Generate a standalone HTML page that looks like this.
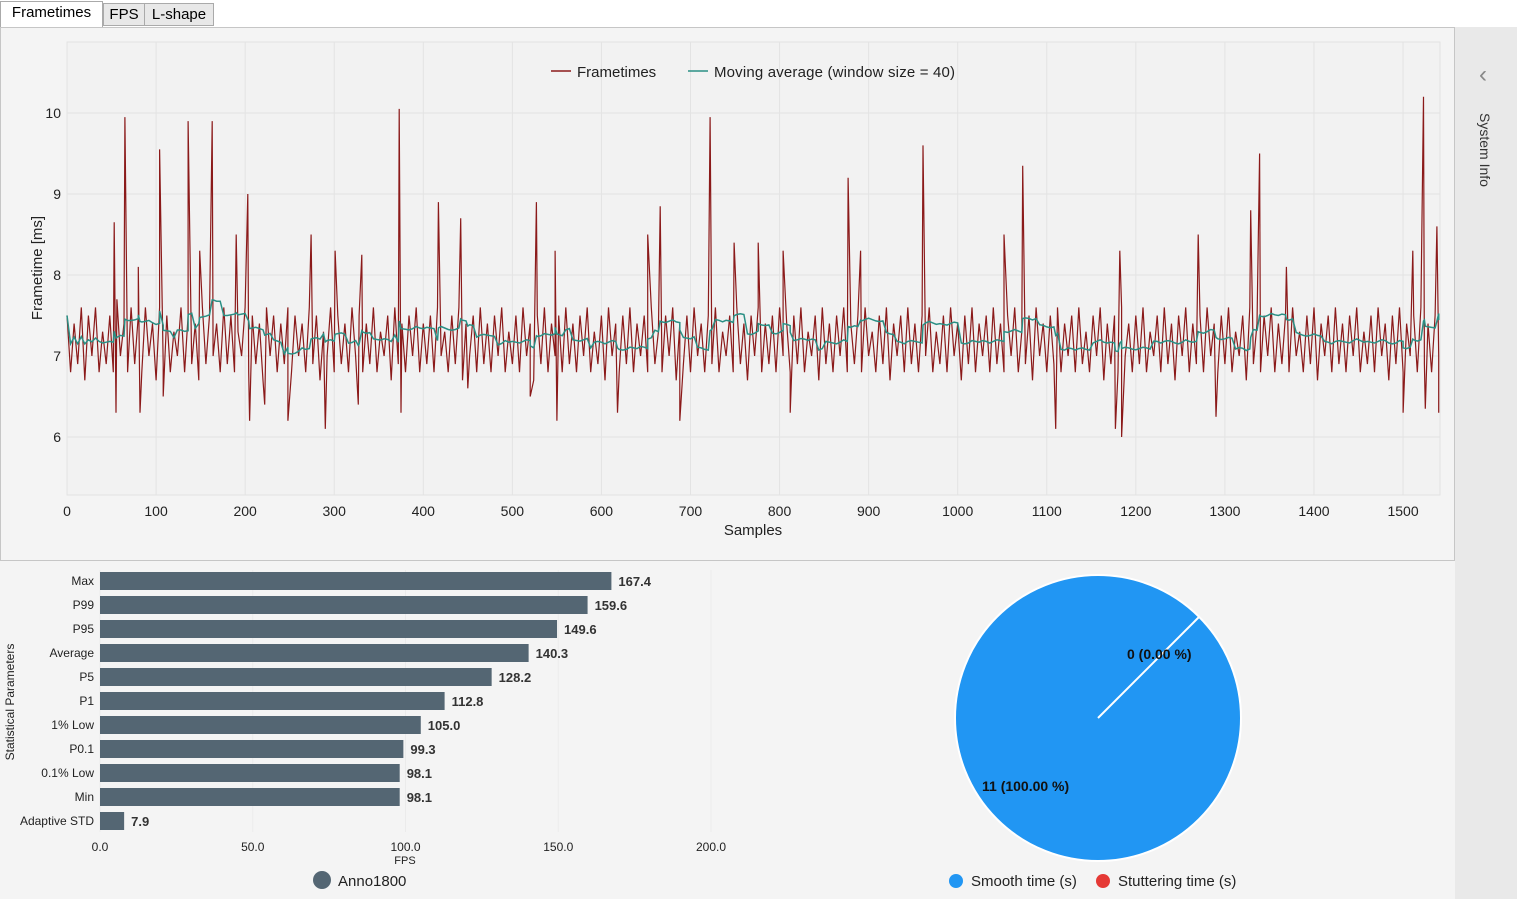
<!DOCTYPE html>
<html><head><meta charset="utf-8"><style>
body{margin:0;width:1517px;height:899px;overflow:hidden;background:#f4f4f4;font-family:"Liberation Sans",sans-serif;position:relative}
.tabbar{position:absolute;left:0;top:0;width:1517px;height:27px;background:#fff}
.tab{position:absolute;top:3px;height:23px;border:1px solid #aaa;background:#e8e8e8;font-size:15px;line-height:22px;text-align:center;box-sizing:border-box}
.side{position:absolute;left:1455px;top:27px;width:62px;height:872px;background:#e9e9e9}
</style></head><body>
<div class="tabbar">
<div class="tab" style="left:0;top:1px;width:103px;height:27px;background:#fff;border-bottom:none">Frametimes</div>
<div class="tab" style="left:103px;width:42px">FPS</div>
<div class="tab" style="left:144px;width:70px">L-shape</div>
</div>
<div style="position:absolute;left:0;top:27px;width:1455px;height:534px;border:1px solid #c6c6c6;box-sizing:border-box;background:#f4f4f4"></div>
<div class="side">
<div style="position:absolute;left:24px;top:34px;font-size:24px;color:#888">&#8249;</div>
<div style="position:absolute;left:-10px;top:115px;width:80px;transform:rotate(90deg);font-size:14px;color:#333;text-align:center">System Info</div>
</div>
<svg id="ft" width="1517" height="899" style="position:absolute;left:0;top:0"></svg>
<script>
const baseValues=[
7.5,6.8,7.4,6.9,7.6,6.7,7.5,7.0,7.6,6.8,7.3,6.9,7.5,6.8,7.7,7.0,7.4,6.8,7.6,6.9,
7.5,6.8,7.6,7.0,7.4,6.7,7.6,6.9,7.5,6.8,7.3,7.0,7.6,6.8,7.5,6.9,7.4,6.7,7.6,6.9,
7.5,7.0,7.4,6.8,7.6,6.9,7.5,6.8,7.3,7.0,7.6,6.8,7.5,6.9,7.4,6.7,7.6,7.0,7.5,6.8,
7.4,6.9,7.6,6.8,7.5,7.0,7.4,6.8,7.6,6.9,7.5,6.7,7.3,7.0,7.6,6.8,7.5,6.9,7.4,6.8,
7.6,7.0,7.5,6.8,7.4,6.9,7.6,6.8,7.3,7.0,7.5,6.7,7.6,6.9,7.4,6.8,7.5,7.0,7.6,6.8,
7.4,6.9,7.5,6.8,7.6,7.0,7.3,6.8,7.5,6.9,7.6,6.7,7.4,7.0,7.5,6.8,7.6,6.9,7.4,6.8,
7.5,7.0,7.6,6.8,7.3,6.9,7.5,6.8,7.6,7.0,7.4,6.7,7.5,6.9,7.6,6.8,7.4,7.0,7.5,6.8,
7.6,6.9,7.4,6.8,7.5,7.0,7.6,6.8,7.3,6.9,7.5,6.7,7.6,7.0,7.4,6.8,7.5,6.9,7.6,6.8,
7.4,7.0,7.5,6.8,7.6,6.9,7.3,6.8,7.5,7.0,7.6,6.7,7.4,6.9,7.5,6.8,7.6,7.0,7.4,6.8,
7.5,6.9,7.6,6.8,7.3,7.0,7.5,6.8,7.6,6.9,7.4,6.7,7.5,7.0,7.6,6.8,7.4,6.9,7.5,6.8,
7.6,7.0,7.4,6.8,7.5,6.9,7.6,6.8,7.3,7.0,7.5,6.7,7.6,6.9,7.4,6.8,7.5,7.0,7.6,6.8,
7.4,6.9,7.5,6.8,7.6,7.0,7.3,6.8,7.5,6.9,7.6,6.7,7.4,7.0,7.5,6.8,7.6,6.9,7.4,6.8,
7.5,7.0,7.6,6.8,7.3,6.9,7.5,6.8,7.6,7.0,7.4,6.7,7.5,6.9,7.6,6.8,7.4,7.0,7.5,6.8,
7.6,6.9,7.4,6.8,7.5,7.0,7.6,6.8,7.3,6.9,7.5,6.7,7.6,7.0,7.4,6.8,7.5,6.9,7.6,6.8,
7.4,7.0,7.5,6.8,7.6,6.9,7.3,6.8,7.5,7.0,7.6,6.7,7.4,6.9,7.5,6.8,7.6,7.0,7.4,6.8,
7.5,6.9,7.6,6.8,7.3,7.0,7.5,6.8,7.6,6.9,7.4,6.7,7.5,7.0,7.6,6.8,7.4,6.9,7.5,6.8,
7.6,7.0,7.4,6.8,7.5,6.9,7.6,6.8,7.3,7.0,7.5,6.7,7.6,6.9,7.4,6.8,7.5,7.0,7.6,6.8,
7.4,6.9,7.5,6.8,7.6,7.0,7.3,6.8,7.5,6.9,7.6,6.7,7.4,7.0,7.5,6.8,7.6,6.9,7.4,6.8,
7.5,7.0,7.6,6.8,7.3,6.9,7.5,6.8,7.6,7.0,7.4,6.7,7.5,6.9,7.6,6.8,7.4,7.0,7.5,6.8,
7.6,6.9,7.4,6.8,7.5,7.0];
const baseStep=4;
const spikeSamples=[53,55,65,80,82,104,136,149,163,190,203,205,274,301,331,373,375,417,442,527,548,652,666,722,749,776,804,877,891,961,1052,1073,1182,1270,1329,1339,1369,1511,1523,1538,
108,222,248,290,327,450,520,550,618,688,812,1110,1177,1184,1290,1500,1525,1540];
const spikeValues=[8.65,6.3,9.95,8.1,6.3,9.55,9.9,8.3,9.9,8.5,9.0,6.2,8.5,8.3,8.25,10.05,6.3,8.9,8.7,8.9,8.3,8.5,8.85,9.95,8.4,8.4,8.3,9.2,8.3,9.6,8.5,9.35,8.3,8.5,8.8,9.5,8.1,8.3,10.2,8.6,
6.5,6.4,6.2,6.1,6.4,6.6,6.5,6.2,6.3,6.2,6.3,6.1,6.1,6.0,6.25,6.3,6.35,6.3];
const xTicks=[0,100,200,300,400,500,600,700,800,900,1000,1100,1200,1300,1400,1500];
const yTicks=[6,7,8,9,10];
const maWindow=40;
const barLabels=["Max","P99","P95","Average","P5","P1","1% Low","P0.1","0.1% Low","Min","Adaptive STD"];
const barValues=[167.4,159.6,149.6,140.3,128.2,112.8,105.0,99.3,98.1,98.1,7.9];
const fpsTicks=[0,50,100,150,200];
const pieValues=[11,0];
const pieLabels=["Smooth time (s)","Stuttering time (s)"];

const NS="http://www.w3.org/2000/svg";
const svg=document.getElementById('ft');
function mk(t,a,p){const e=document.createElementNS(NS,t);for(const k in a)e.setAttribute(k,a[k]);(p||svg).appendChild(e);return e;}
const X=s=>67+s*0.8907, Y=v=>113+(10-v)*81;
mk('rect',{x:67,y:42,width:1373,height:453,fill:'#f2f2f2',stroke:'#e2e2e2'});
xTicks.forEach(t=>{const g=mk('line',{x1:X(t),x2:X(t),y1:42,y2:495,stroke:'#e3e3e3'});

const l=mk('text',{x:X(t),y:516,'text-anchor':'middle','font-size':14,fill:'#222'});l.textContent=t;
});
yTicks.forEach(t=>{mk('line',{x1:67,x2:1440,y1:Y(t),y2:Y(t),stroke:'#e3e3e3'});
const l=mk('text',{x:61,y:Y(t)+5,'text-anchor':'end','font-size':14,fill:'#222'});l.textContent=t;
});
let t=mk('text',{x:753,y:535,'text-anchor':'middle','font-size':15,fill:'#222'});t.textContent='Samples';

t=mk('text',{x:0,y:0,'text-anchor':'middle','font-size':15,fill:'#222',transform:'translate(42,268) rotate(-90)'});t.textContent='Frametime [ms]';

let pts=baseValues.map((v,i)=>[i*baseStep,v]).filter(q=>q[0]<=1541);
spikeSamples.forEach((s,i)=>pts.push([s,spikeValues[i]]));
pts.sort((a,b)=>a[0]-b[0]);
const p=mk('polyline',{points:pts.map(q=>X(q[0]).toFixed(1)+','+Y(q[1]).toFixed(1)).join(' '),fill:'none',stroke:'#8b1a1a','stroke-width':1.2,'stroke-linejoin':'bevel'});

const ma=[];
for(let i=0;i<pts.length;i++){let s=0,n=0;for(let j=i;j>=0&&pts[i][0]-pts[j][0]<maWindow;j--){s+=pts[j][1];n++;}ma.push([pts[i][0],s/n]);}
const m=mk('polyline',{points:ma.map(q=>X(q[0]).toFixed(1)+','+Y(q[1]).toFixed(1)).join(' '),fill:'none',stroke:'#2a8f84','stroke-width':1.5});

mk('line',{x1:551,x2:571,y1:71,y2:71,stroke:'#8b1a1a','stroke-width':1.5});
t=mk('text',{x:577,y:77,'font-size':15,fill:'#222'});t.textContent='Frametimes';

mk('line',{x1:688,x2:708,y1:71,y2:71,stroke:'#2a8f84','stroke-width':1.5});
t=mk('text',{x:714,y:77,'font-size':15,fill:'#222',textLength:241});t.textContent='Moving average (window size = 40)';

const BX=v=>100+v*3.055;
fpsTicks.forEach(v=>{mk('line',{x1:BX(v),x2:BX(v),y1:570,y2:832,stroke:'#ebebeb'});
const l=mk('text',{x:BX(v),y:851,'text-anchor':'middle','font-size':12,fill:'#222'});l.textContent=v.toFixed(1);
});
barValues.forEach((v,i)=>{const cy=581+i*24;
const r=mk('rect',{x:100,y:cy-9,width:BX(v)-100,height:18,fill:'#546673'});

const l=mk('text',{x:94,y:cy+4,'text-anchor':'end','font-size':12,fill:'#222'});l.textContent=barLabels[i];

const vl=mk('text',{x:BX(v)+7,y:cy+5,'font-size':13,'font-weight':'bold',fill:'#333'});vl.textContent=v.toFixed(1);
});
t=mk('text',{x:405,y:864,'text-anchor':'middle','font-size':11,fill:'#222'});t.textContent='FPS';

t=mk('text',{x:0,y:0,'text-anchor':'middle','font-size':12,fill:'#222',transform:'translate(14,702) rotate(-90)'});t.textContent='Statistical Parameters';

mk('circle',{cx:322,cy:880,r:9,fill:'#546673'});
t=mk('text',{x:338,y:886,'font-size':15,fill:'#222'});t.textContent='Anno1800';

const cx=1098,cy=718,R=143,tot=pieValues[0]+pieValues[1];
const c=mk('circle',{cx:cx,cy:cy,r:R,fill:'#2196f3',stroke:'#fff','stroke-width':2});

const ang=-Math.PI/4+(pieValues[1]/tot)*2*Math.PI;
mk('line',{x1:cx,y1:cy,x2:cx+R*Math.cos(ang),y2:cy+R*Math.sin(ang),stroke:'#fff','stroke-width':2});
t=mk('text',{x:1127,y:659,'font-size':14,'font-weight':'bold',fill:'#111'});t.textContent=pieValues[1]+' (0.00 %)';

t=mk('text',{x:982,y:791,'font-size':14,'font-weight':'bold',fill:'#111'});t.textContent=pieValues[0]+' (100.00 %)';

mk('circle',{cx:956,cy:881,r:7,fill:'#2196f3'});
t=mk('text',{x:971,y:886,'font-size':15,fill:'#222'});t.textContent=pieLabels[0];

mk('circle',{cx:1103,cy:881,r:7,fill:'#e53935'});
t=mk('text',{x:1118,y:886,'font-size':15,fill:'#222'});t.textContent=pieLabels[1];

</script>
</body></html>
